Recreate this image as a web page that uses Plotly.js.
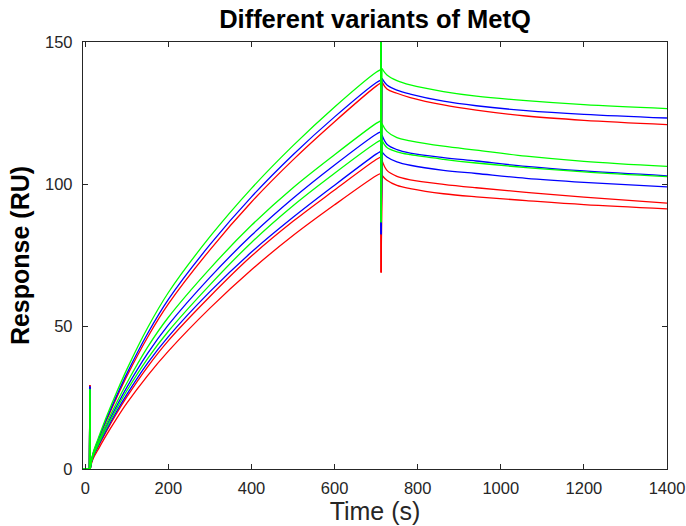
<!DOCTYPE html>
<html>
<head>
<meta charset="utf-8">
<script src="https://cdn.plot.ly/plotly-3.0.1.min.js"></script>
<style>html,body{margin:0;padding:0;background:#fff;}#plot{width:686px;height:526px;}</style>
</head>
<body>
<div id="plot"></div>
<script>
// Time points (s)
const tPre = [-5, 10, 11, 11.6, 12];
const tAssoc = [12, 14, 17, 20, 30, 50, 75, 100, 150, 200, 300, 400, 500, 600, 700, 711];
const tSpike = [711, 711.5, 712, 714];
const tDiss = [714, 726, 750, 782, 862, 941, 1061, 1200, 1400];

// Association phase responses (RU)
const assocG1 = [0, 2.6, 4.6, 6.3, 10.3, 18, 26.8, 35, 49.6, 62, 81.6, 98.6, 113.6, 127.2, 139.4, 140.3];
const assocB1 = [0, 2.5, 4.4, 6.0, 9.8, 17.2, 25.6, 33.5, 47.6, 59.6, 78.8, 95.6, 110.4, 123.7, 135.7, 136.6];
const assocR1 = [0, 2.4, 4.3, 5.8, 9.5, 16.7, 24.9, 32.6, 46.3, 58, 77, 93.8, 108.6, 122, 134.5, 135.6];
const assocG2 = [0, 2.2, 4.0, 5.5, 8.9, 15.6, 23.2, 30.2, 42.8, 53.3, 70.4, 85.6, 98.8, 110.4, 121.4, 122.3];
const assocB2 = [0, 2.1, 3.8, 5.2, 8.5, 14.8, 22, 28.7, 40.6, 50.6, 67.3, 82.1, 95.1, 106.8, 117.6, 118.4];
const assocG3 = [0, 2.0, 3.7, 5.0, 8.2, 14.2, 21.1, 27.5, 38.8, 48.4, 64.7, 79.6, 92.5, 103.9, 114.6, 115.5];
const assocB3 = [0, 1.9, 3.5, 4.8, 7.8, 13.5, 20.1, 26.2, 37.2, 46.5, 62.3, 76.2, 88.4, 99.7, 110.6, 111.6];
const assocR2 = [0, 1.8, 3.3, 4.6, 7.5, 13, 19.4, 25.3, 35.9, 45.1, 60.6, 74.8, 87, 98, 108.7, 109.6];
const assocR3 = [0, 1.5, 2.9, 4.0, 6.6, 11.7, 17.6, 23.1, 32.8, 41.4, 56.5, 70, 82, 92.8, 103, 103.8];

// Dissociation phase responses (RU)
const dissG1 = [140.7, 138.4, 136.4, 134.9, 132.6, 131, 129.4, 128, 126.6];
const dissB1 = [137.2, 134.9, 133.1, 131.7, 129.2, 127.6, 125.9, 124.6, 123.3];
const dissR1 = [136, 133.5, 132, 130.5, 127.9, 126.1, 124, 122.5, 121];
const dissG2 = [121.4, 118.6, 116.4, 115.3, 113.4, 112, 109.9, 108.1, 106.3];
const dissB2 = [117.3, 114.1, 112.2, 111, 109.4, 108.2, 106.3, 104.7, 103];
const dissG3 = [115.5, 112.9, 111.4, 110.4, 108.8, 107.5, 105.9, 104.4, 102.7];
const dissB3 = [111.4, 109.6, 107.9, 106.7, 104.9, 103.8, 102.1, 100.7, 99.1];
const dissR2 = [108.5, 104.9, 102.8, 101.6, 100, 98.8, 97.2, 95.5, 93.4];
const dissR3 = [103.2, 101.4, 99.6, 98.5, 96.7, 95.6, 94.3, 92.9, 91.4];

// Injection artefacts (spike top at start, spike high / low at end of injection)
const startSpike = {red: 29.5, blue: 29, green: 28};
const endSpikeHigh = 160;
const endSpikeLow = {red: 69, blue: 82.5, green: 86.7};

const colors = {red: '#ff0000', blue: '#0000ff', green: '#00ff00'};

const series = [
  {c: 'red', a: assocR1, d: dissR1},
  {c: 'red', a: assocR2, d: dissR2},
  {c: 'red', a: assocR3, d: dissR3},
  {c: 'blue', a: assocB1, d: dissB1},
  {c: 'blue', a: assocB2, d: dissB2},
  {c: 'blue', a: assocB3, d: dissB3},
  {c: 'green', a: assocG1, d: dissG1},
  {c: 'green', a: assocG2, d: dissG2},
  {c: 'green', a: assocG3, d: dissG3}
];

function tr(x, y, color, shape) {
  return {x: x, y: y, type: 'scatter', mode: 'lines',
          line: {color: color, width: 1.3, shape: shape, smoothing: 1},
          hoverinfo: 'skip', showlegend: false};
}

const traces = [];
series.forEach(s => {
  const col = colors[s.c];
  traces.push(tr(tPre, [0, 0, startSpike[s.c], 0, 0], col, 'linear'));
  traces.push(tr(tAssoc, s.a, col, 'spline'));
  traces.push(tr(tSpike, [s.a[s.a.length - 1], endSpikeHigh, endSpikeLow[s.c], s.d[0]], col, 'linear'));
  traces.push(tr(tDiss, s.d, col, 'spline'));
});

const fam = 'Liberation Sans, Arial, Helvetica, sans-serif';
const axisCommon = {
  showgrid: false, zeroline: false, showline: true, mirror: 'ticks',
  linecolor: '#262626', linewidth: 1.2, ticks: 'inside', ticklen: 5,
  tickcolor: '#262626', tickwidth: 1,
  tickfont: {family: fam, size: 16.5, color: '#262626'}
};

const layout = {
  width: 686, height: 526,
  margin: {l: 83, r: 19, t: 42, b: 57},
  paper_bgcolor: '#ffffff', plot_bgcolor: '#ffffff',
  title: {text: '<b>Different variants of MetQ</b>', x: 0.5, xref: 'paper',
          y: 0.963, yref: 'container', yanchor: 'middle',
          font: {family: fam, size: 25.5, color: '#000000'}},
  xaxis: Object.assign({}, axisCommon, {
    range: [-5.5, 1400], tickvals: [0, 200, 400, 600, 800, 1000, 1200, 1400],
    ticklabelstandoff: 4,
    title: {text: 'Time (s)', standoff: 6,
            font: {family: fam, size: 25, color: '#262626'}}
  }),
  yaxis: Object.assign({}, axisCommon, {
    range: [0, 150], tickvals: [0, 50, 100, 150],
    ticklabelstandoff: 6,
    title: {text: '<b>Response (RU)</b>', standoff: 8,
            font: {family: fam, size: 25, color: '#000000'}}
  })
};

Plotly.newPlot('plot', traces, layout, {displayModeBar: false, staticPlot: true});
</script>
</body>
</html>
